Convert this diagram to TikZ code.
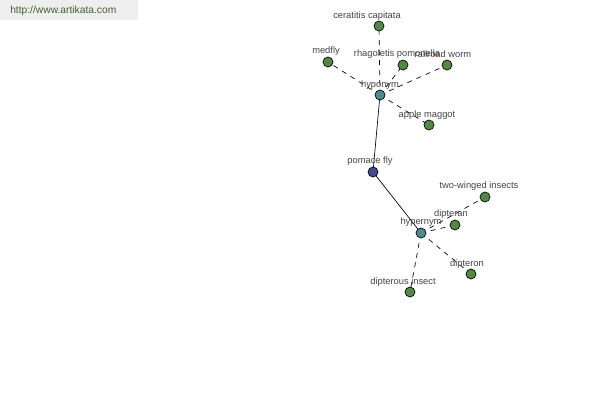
\documentclass[tikz,border=0pt]{standalone}
\usepackage{fontspec}
\setmainfont{Liberation Sans}
\begin{document}
\begin{tikzpicture}[x=0.75pt,y=-0.75pt,
  leaf/.style={circle,draw=black,line width=0.5pt,fill=leafgreen,minimum size=7.5pt,inner sep=0pt},
  hub/.style={leaf,fill=hubteal},
  root/.style={leaf,fill=rootblue},
  lbl/.style={font=\fontsize{7pt}{8pt}\selectfont,text=labelgray,inner sep=0pt},
  rel/.style={draw=black,line width=0.5pt},
  syn/.style={draw=black,line width=0.5pt,dash pattern=on 3.75pt off 3.75pt}]
\definecolor{leafgreen}{HTML}{4F8A3F}
\definecolor{hubteal}{HTML}{4A8E8E}
\definecolor{rootblue}{HTML}{3F4C94}
\definecolor{labelgray}{HTML}{444444}
\definecolor{hdrgray}{HTML}{EEEEEE}
\definecolor{hdrtext}{HTML}{4B5B33}
\useasboundingbox[fill=white] (0,0) rectangle (600,400);
\fill[hdrgray] (0,0) rectangle (138,20);
\node[anchor=west,font=\fontsize{7.7pt}{9pt}\selectfont,text=hdrtext,inner sep=0pt] (url) at (10,11) {http://www.artikata.com};
% nodes
\coordinate (cc) at (379,26);
\coordinate (md) at (328,62);
\coordinate (rp) at (403,65);
\coordinate (rw) at (447,65);
\coordinate (hy) at (380,95);
\coordinate (am) at (429,125);
\coordinate (pf) at (373,172);
\coordinate (tw) at (485,197);
\coordinate (dn) at (455,225);
\coordinate (he) at (421,233);
\coordinate (do) at (471,274);
\coordinate (di) at (410,292);
% edges
\draw[syn] (hy) -- (cc);
\draw[syn] (hy) -- (md);
\draw[syn] (hy) -- (rp);
\draw[syn] (hy) -- (rw);
\draw[syn] (hy) -- (am);
\draw[rel] (hy) -- (pf);
\draw[rel] (pf) -- (he);
\draw[syn] (he) -- (tw);
\draw[syn] (he) -- (dn);
\draw[syn] (he) -- (do);
\draw[syn] (he) -- (di);
% circles
\node[leaf] (ncc) at (cc) {};
\node[leaf] (nmd) at (md) {};
\node[leaf] (nrp) at (rp) {};
\node[leaf] (nrw) at (rw) {};
\node[hub] (nhy) at (hy) {};
\node[leaf] (nam) at (am) {};
\node[root] (npf) at (pf) {};
\node[leaf] (ntw) at (tw) {};
\node[leaf] (ndn) at (dn) {};
\node[hub] (nhe) at (he) {};
\node[leaf] (ndo) at (do) {};
\node[leaf] (ndi) at (di) {};
% labels
\node[lbl] (lcc) at (367,16) {ceratitis capitata};
\node[lbl] (lmd) at (326,51) {medfly};
\node[lbl] (lrp) at (397,54) {rhagoletis pomonella};
\node[lbl] (lrw) at (443,54) {railroad worm};
\node[lbl] (lhy) at (380,85) {hyponym};
\node[lbl] (lam) at (427,115) {apple maggot};
\node[lbl] (lpf) at (370,161) {pomace fly};
\node[lbl] (ltw) at (479,186) {two-winged insects};
\node[lbl] (ldn) at (451,214) {dipteran};
\node[lbl] (lhe) at (421,222) {hypernym};
\node[lbl] (ldo) at (467,264) {dipteron};
\node[lbl] (ldi) at (403,282) {dipterous insect};
\end{tikzpicture}
\end{document}
